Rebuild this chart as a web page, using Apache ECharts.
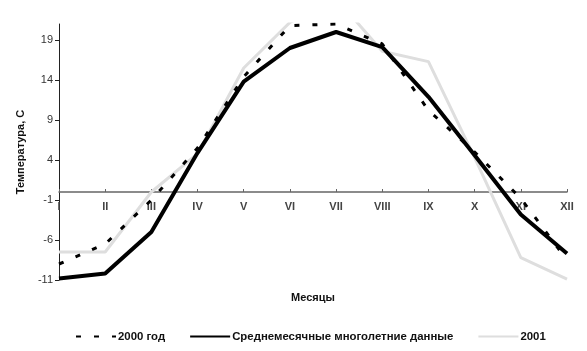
<!DOCTYPE html>
<html>
<head>
<meta charset="utf-8">
<script src="https://cdn.jsdelivr.net/npm/echarts@6/dist/echarts.min.js"></script>
<style>
  html, body { margin: 0; padding: 0; background: #fff; }
  #chart { width: 587px; height: 351px; }
</style>
</head>
<body>
<div id="chart"></div>
<script>
const months = ["I", "II", "III", "IV", "V", "VI", "VII", "VIII", "IX", "X", "XI", "XII"];
const year2000 = [-9.0, -6.5, -1.0, 5.5, 14.4, 20.8, 21.0, 18.5, 10.2, 5.0, -0.8, -8.5];
const longTerm = [-10.8, -10.2, -5.0, 4.9, 13.8, 18.0, 20.0, 18.1, 11.9, 4.6, -2.8, -7.7];
const year2001 = [-7.5, -7.5, 0.0, 4.8, 15.5, 21.2, 24.2, 17.6, 16.3, 4.3, -8.2, -10.9];
const yTicks = [-11, -6, -1, 4, 9, 14, 19];

const font = "Liberation Sans, Arial, sans-serif";
const chart = echarts.init(document.getElementById("chart"));

const option = {
  animation: false,
  backgroundColor: "#fff",
  grid: { left: 59, right: 20, top: 24, bottom: 71, outerBoundsMode: "none", containLabel: false },
  legend: {
    left: 70,
    top: 326,
    itemWidth: 40,
    itemHeight: 12,
    itemGap: 24,
    itemStyle: { opacity: 0 },
    textStyle: { fontFamily: font, fontSize: 11.4, fontWeight: "bold", color: "#111", padding: [0, 0, 0, -3] },
    data: ["2000 год", "Среднемесячные многолетние данные", "2001"],
  },
  xAxis: {
    type: "category",
    data: months,
    boundaryGap: false,
    // x axis drawn at y = 0 (88 px above the plot bottom)
    offset: -88,
    name: "Месяцы",
    nameLocation: "middle",
    nameGap: 100,
    nameTextStyle: { fontFamily: font, fontSize: 11, fontWeight: "bold", color: "#111" },
    axisLine: { onZero: false, lineStyle: { color: "#666", width: 1.5 } },
    axisTick: { inside: true, length: 3, lineStyle: { color: "#666" } },
    axisLabel: {
      fontFamily: font, fontSize: 11, fontWeight: "bold", color: "#444", margin: 9,
      showMinLabel: true, hideOverlap: false,
    },
  },
  yAxis: {
    type: "value",
    min: -11,
    max: 21,
    name: "Температура, С",
    nameLocation: "middle",
    nameGap: 33,
    nameTextStyle: { fontFamily: font, fontSize: 11, fontWeight: "bold", color: "#111" },
    axisLine: { show: true, lineStyle: { color: "#222", width: 1 } },
    axisTick: { show: true, length: 4, customValues: yTicks, lineStyle: { color: "#222" } },
    axisLabel: { fontFamily: font, fontSize: 11, color: "#333", margin: 6, customValues: yTicks },
    splitLine: { show: false },
  },
  series: [
    {
      name: "2001",
      type: "line",
      data: year2001,
      symbol: "none",
      clip: true,
      lineStyle: { color: "#dedede", width: 3 },
      itemStyle: { color: "#dedede" },
      z: 2,
    },
    {
      name: "Среднемесячные многолетние данные",
      type: "line",
      data: longTerm,
      symbol: "none",
      lineStyle: { color: "#000", width: 4 },
      itemStyle: { color: "#000" },
      z: 3,
    },
    {
      name: "2000 год",
      type: "line",
      data: year2000,
      symbol: "none",
      lineStyle: { color: "#000", width: 3, type: [5, 13] },
      itemStyle: { color: "#000" },
      z: 4,
    },
  ],
};

chart.setOption(option);
</script>
</body>
</html>
